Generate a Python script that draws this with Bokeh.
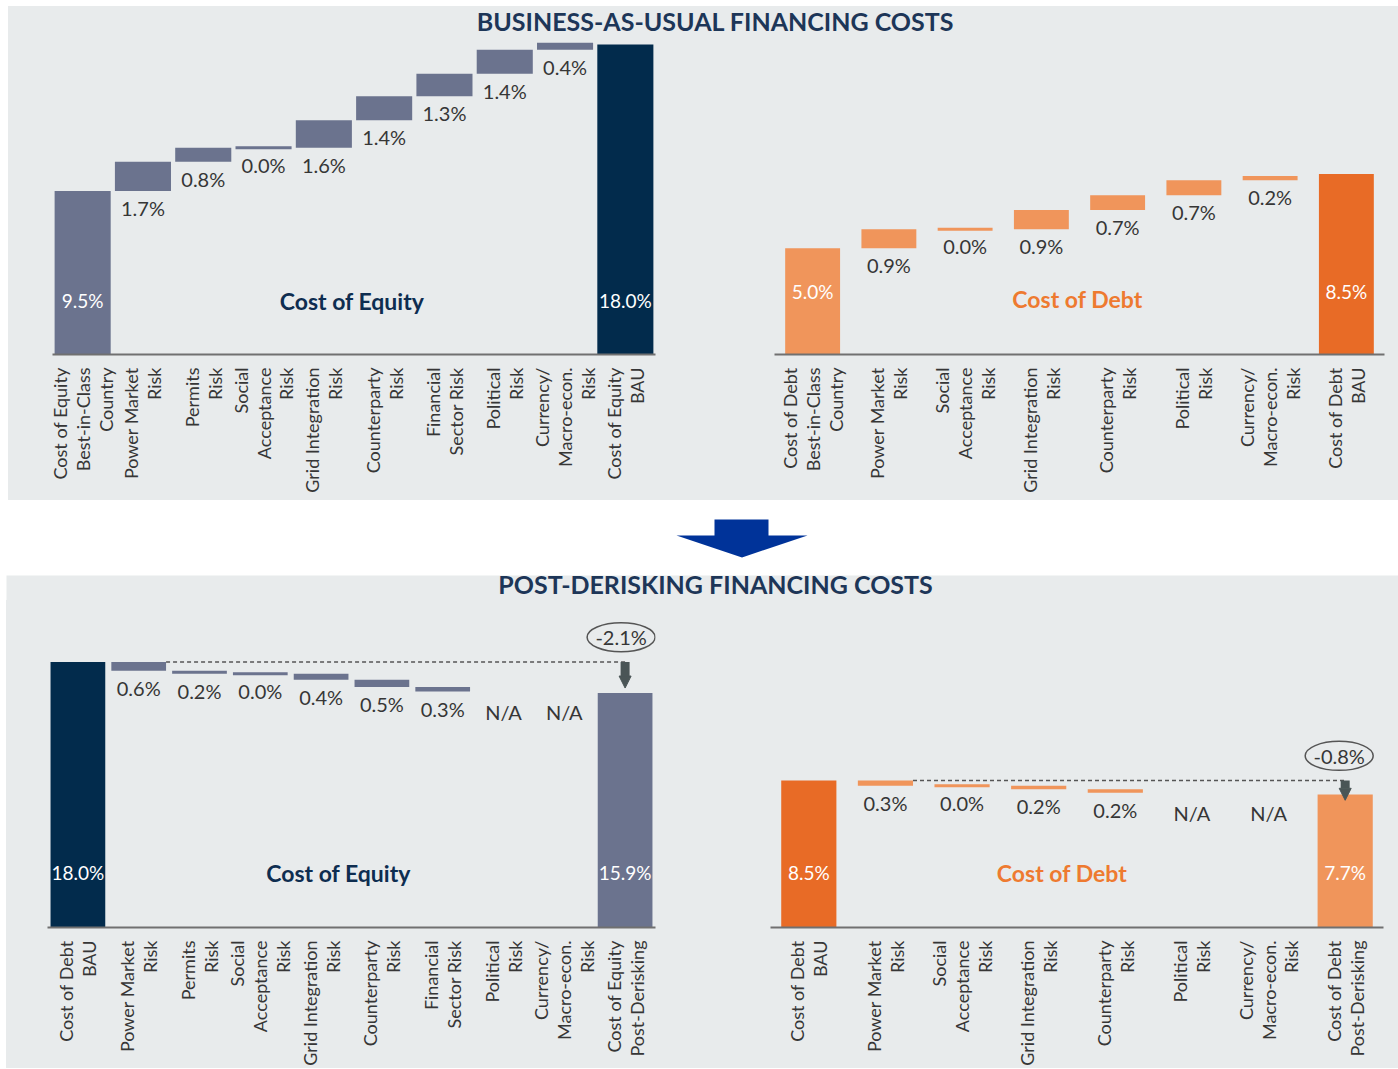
import math
from bokeh.plotting import figure
from bokeh.models import Range1d, FactorRange, Arrow, NormalHead, Spacer
from bokeh.layouts import column, row
from bokeh.embed import file_html
from bokeh.resources import INLINE
from bokeh.core.properties import value

# ---------------- data ----------------
top_title = "BUSINESS-AS-USUAL FINANCING COSTS"
bottom_title = "POST-DERISKING FINANCING COSTS"
equity_label = "Cost of Equity"
debt_label = "Cost of Debt"

bau_equity_categories = ["Cost of Equity\nBest-in-Class\nCountry", "Power Market\nRisk", "Permits\nRisk",
                         "Social\nAcceptance\nRisk", "Grid Integration\nRisk", "Counterparty\nRisk",
                         "Financial\nSector Risk", "Political\nRisk", "Currency/\nMacro-econ.\nRisk",
                         "Cost of Equity\nBAU"]
bau_equity_start = 9.5
bau_equity_steps = [1.7, 0.8, 0.0, 1.6, 1.4, 1.3, 1.4, 0.4]
bau_equity_end = 18.0

bau_debt_categories = ["Cost of Debt\nBest-in-Class\nCountry", "Power Market\nRisk", "Social\nAcceptance\nRisk",
                       "Grid Integration\nRisk", "Counterparty\nRisk", "Political\nRisk",
                       "Currency/\nMacro-econ.\nRisk", "Cost of Debt\nBAU"]
bau_debt_start = 5.0
bau_debt_steps = [0.9, 0.0, 0.9, 0.7, 0.7, 0.2]
bau_debt_end = 8.5

post_equity_categories = ["Cost of Debt\nBAU", "Power Market\nRisk", "Permits\nRisk", "Social\nAcceptance\nRisk",
                          "Grid Integration\nRisk", "Counterparty\nRisk", "Financial\nSector Risk",
                          "Political\nRisk", "Currency/\nMacro-econ.\nRisk", "Cost of Equity\nPost-Derisking"]
post_equity_start = 18.0
post_equity_steps = [0.6, 0.2, 0.0, 0.4, 0.5, 0.3, None, None]
post_equity_end = 15.9
post_equity_change = -2.1

post_debt_categories = ["Cost of Debt\nBAU", "Power Market\nRisk", "Social\nAcceptance\nRisk",
                        "Grid Integration\nRisk", "Counterparty\nRisk", "Political\nRisk",
                        "Currency/\nMacro-econ.\nRisk", "Cost of Debt\nPost-Derisking"]
post_debt_start = 8.5
post_debt_steps = [0.3, 0.0, 0.2, 0.2, None, None]
post_debt_end = 7.7
post_debt_change = -0.8

# ---------------- styles ----------------
BG = "#E8EBEC"
SLATE = "#6B738E"
NAVY = "#022B4C"
ORANGE_L = "#F0955B"
ORANGE_D = "#E86B26"
TXT = "#363636"
TITLE_C = "#1D3658"
EQ_C = "#0E2D50"
DEBT_C = "#EE7A30"
ARROW_C = "#4A5556"
FONT = "Lato"
PAGE_W = 1398


def make_chart(cats, start, steps, end, direction, c_start, c_step, c_end, center_text, center_color,
               width, height, ml, mr, mb, px, bar_w, inner_dy, center_dy, center_dx,
               change=None, tip_px=0, ell_dx=0):
    frame_h = height - mb
    px_cat = (width - ml - mr) / len(cats)
    p = figure(x_range=FactorRange(factors=cats), y_range=Range1d(0, frame_h / px),
               width=width, height=height, output_backend="svg", toolbar_location=None,
               y_axis_location=None, min_border_left=ml, min_border_right=mr,
               min_border_bottom=mb, min_border_top=0,
               background_fill_color=BG, border_fill_color=BG, outline_line_color=None)
    p.xgrid.visible = False
    p.ygrid.visible = False
    ax = p.xaxis[0]
    ax.axis_line_color = "#707070"
    ax.axis_line_width = 2
    ax.major_tick_line_color = None
    ax.major_tick_out = 0
    ax.major_tick_in = 0
    ax.major_label_orientation = math.pi / 2
    ax.major_label_standoff = 13
    ax.major_label_text_font = FONT
    ax.major_label_text_font_size = "18px"
    ax.major_label_text_color = TXT
    ax.major_label_text_line_height = 1.04

    # total bars
    p.vbar(x=[cats[0]], bottom=0, top=[start], width=bar_w, fill_color=c_start, line_color=None)
    p.vbar(x=[cats[-1]], bottom=0, top=[end], width=bar_w, fill_color=c_end, line_color=None)

    # step bars
    cum = start
    xs, bots, tops, zx, zy = [], [], [], [], []
    lx, ly, lt, loff = [], [], [], []
    for i, s in enumerate(steps):
        cat = cats[i + 1]
        if s is None:
            lx.append(cat); ly.append(cum); lt.append("N/A"); loff.append(20)
            continue
        new = cum + direction * s
        lo, hi = min(cum, new), max(cum, new)
        if s == 0:
            zx.append(cat); zy.append(cum)
        else:
            xs.append(cat); bots.append(lo); tops.append(hi)
        lx.append(cat); ly.append(lo); lt.append(f"{s:.1f}%"); loff.append(17)
        cum = new
    p.vbar(x=xs, bottom=bots, top=tops, width=bar_w, fill_color=c_step, line_color=None)
    if zx:
        p.vbar(x=zx, bottom=zy, top=zy, width=bar_w, fill_color=c_step, line_color=c_step, line_width=3)
    p.text(x=lx, y=ly, text=lt, y_offset=loff, text_align="center", text_baseline="middle",
           text_font=value(FONT), text_font_size="20px", text_color=TXT)

    # inner labels
    p.text(x=[cats[0], cats[-1]], y=[0, 0], text=[f"{start:.1f}%", f"{end:.1f}%"], y_offset=-inner_dy,
           text_align="center", text_baseline="middle", text_font=value(FONT), text_font_size="19px",
           text_color="white")
    p.text(x=[len(cats) / 2], y=[0], text=[center_text], y_offset=-center_dy, x_offset=center_dx,
           text_align="center", text_baseline="middle", text_font=value(FONT), text_font_size="23px",
           text_font_style="bold", text_color=center_color)

    if change is not None:
        n = len(cats)
        x_last = n - 0.5
        x_dash = 1.5 + bar_w / 2
        p.segment(x0=[x_dash], y0=[start], x1=[x_last], y1=[start], line_dash="4 3",
                  line_color="#555555", line_width=1.5)
        p.add_layout(Arrow(x_start=x_last, y_start=start, x_end=x_last, y_end=end + tip_px / px,
                           line_width=9, line_color=ARROW_C,
                           end=NormalHead(size=12, fill_color=ARROW_C, line_color=ARROW_C)))
        ex = x_last + ell_dx / px_cat
        ey = start + 25 / px
        p.ellipse(x=[ex], y=[ey], width=68, height=29, width_units="screen", height_units="screen",
                  fill_color=None, line_color="#555555", line_width=1.5)
        p.text(x=[ex], y=[ey], text=[f"{change:.1f}%"], text_align="center", text_baseline="middle",
               text_font=value(FONT), text_font_size="20px", text_color=TXT)
    return p


def title_strip(text, width, height, cx, center_from_top):
    p = figure(width=width, height=height, x_range=Range1d(0, width), y_range=Range1d(0, height),
               output_backend="svg", toolbar_location=None, x_axis_location=None, y_axis_location=None,
               min_border=0, background_fill_color=BG, border_fill_color=BG, outline_line_color=None)
    p.xgrid.visible = False
    p.ygrid.visible = False
    p.text(x=[cx], y=[height - center_from_top], text=[text], text_align="center", text_baseline="middle",
           text_font=value(FONT), text_font_size="25px", text_font_style="bold", text_color=TITLE_C)
    return p


# band between panels: big blue arrow + grey strip holding the lower title
arrow_shape_x = [714, 768, 768, 807, 741.5, 676, 714]
arrow_shape_y = [81, 81, 65, 65, 43, 65, 65]
band = figure(width=PAGE_W, height=100, x_range=Range1d(0, PAGE_W), y_range=Range1d(0, 100),
              output_backend="svg", toolbar_location=None, x_axis_location=None, y_axis_location=None,
              min_border=0, background_fill_color="white", border_fill_color="white", outline_line_color=None)
band.xgrid.visible = False
band.ygrid.visible = False
band.quad(left=[6], right=[PAGE_W + 2], bottom=[-2], top=[25], fill_color=BG, line_color=None)
band.patch(arrow_shape_x, arrow_shape_y, fill_color="#003399", line_color=None)
band.text(x=[715], y=[17], text=[bottom_title], text_align="center", text_baseline="middle",
          text_font=value(FONT), text_font_size="25px", text_font_style="bold", text_color=TITLE_C)

t1 = title_strip(top_title, 1390, 32, 707, 14)

tl = make_chart(bau_equity_categories, bau_equity_start, bau_equity_steps, bau_equity_end, 1,
                SLATE, SLATE, NAVY, equity_label, EQ_C,
                696, 462, 44, 49, 146, 17.22, 0.93, 54, 54, -2)
tr = make_chart(bau_debt_categories, bau_debt_start, bau_debt_steps, bau_debt_end, 1,
                ORANGE_L, ORANGE_L, ORANGE_D, debt_label, DEBT_C,
                694, 462, 70, 14, 146, 21.25, 0.72, 63, 56, -2)
bl = make_chart(post_equity_categories, post_equity_start, post_equity_steps, post_equity_end, -1,
                NAVY, SLATE, SLATE, equity_label, EQ_C,
                696, 468, 41, 47, 137, 14.93, 0.9, 55, 55, -13,
                change=post_equity_change, tip_px=5, ell_dx=-4)
br = make_chart(post_debt_categories, post_debt_start, post_debt_steps, post_debt_end, -1,
                ORANGE_D, ORANGE_L, ORANGE_L, debt_label, DEBT_C,
                696, 468, 68, 15, 137, 17.5, 0.72, 55, 55, -15,
                change=post_debt_change, tip_px=-6, ell_dx=-6)

panel_style = {"background-color": BG}
top_panel = column(t1, row(tl, tr, styles=panel_style), styles=panel_style)
bottom_panel = row(bl, br, styles=panel_style)

layout = column(
    Spacer(width=PAGE_W, height=6),
    row(Spacer(width=8, height=494), top_panel),
    band,
    row(Spacer(width=6, height=468), bottom_panel),
    styles={"background-color": "white"},
)
open("out.html", "w").write(file_html(layout, INLINE))
